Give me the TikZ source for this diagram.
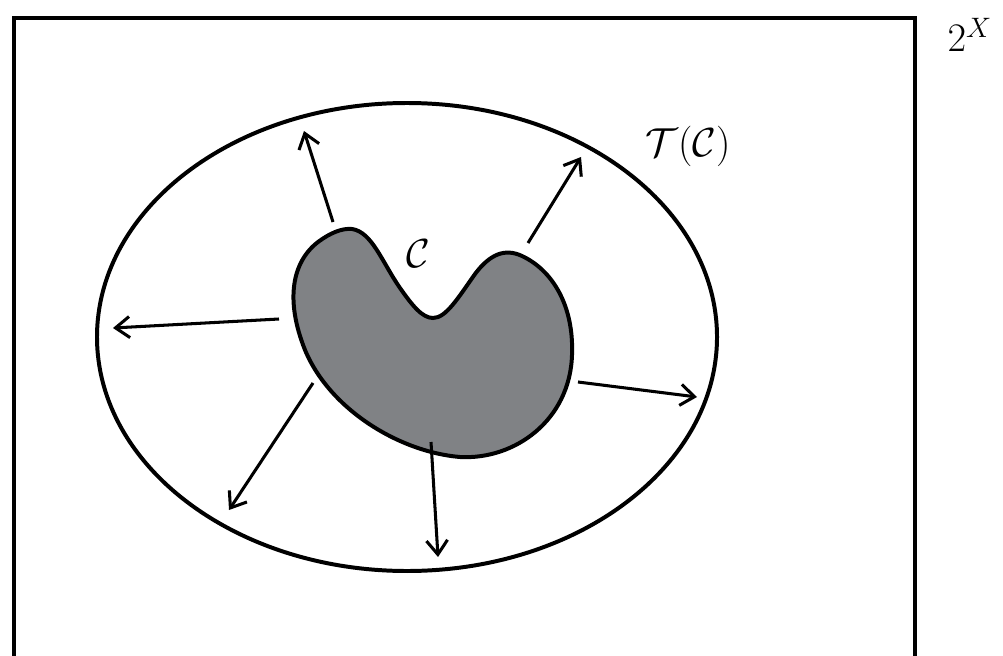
\documentclass[tikz,border=0pt]{standalone}
\usepackage{amsmath}
\usetikzlibrary{arrows.meta}
\definecolor{blobgray}{RGB}{128,130,133}

\begin{document}
\begin{tikzpicture}[x=0.015cm,y=-0.015cm,font=\LARGE,
  outarrow/.style={line width=1.3pt,-{Straight Barb[length=6pt,width=9pt]}}]
\useasboundingbox (0,0) rectangle (1003,655);
% space 2^X
\draw[line width=1.4pt] (14,720) -- (14,18) -- (915,18) -- (915,720);
\node (space) at (970,35) {$2^X$};
% tube
\draw[line width=1.7pt] (407,337) ellipse [x radius=310,y radius=234];
\node (tube) at (688,146) {$\mathcal{T}(\mathcal{C})$};
% the set C
\draw[line width=1.7pt,fill=blobgray] (352,229)
  .. controls (372,232) and (382,262) .. (400,288)
  .. controls (412,305) and (422,318) .. (433,318)
  .. controls (446,318) and (458,298) .. (475,274)
  .. controls (490,254) and (505,248) .. (522,256)
  .. controls (552,270) and (574,305) .. (572,355)
  .. controls (570,420) and (515,460) .. (460,457)
  .. controls (400,452) and (330,410) .. (305,350)
  .. controls (285,300) and (292,262) .. (318,242)
  .. controls (330,233) and (342,228) .. (352,229) -- cycle;
\node (set) at (418,254) {$\mathcal{C}$};
% arrows
\coordinate (a1) at (333,222); \coordinate (b1) at (304,131);
\coordinate (a2) at (528,243); \coordinate (b2) at (581,157);
\coordinate (a3) at (279,319); \coordinate (b3) at (113,328);
\coordinate (a4) at (578,382); \coordinate (b4) at (697,397);
\coordinate (a5) at (313,383); \coordinate (b5) at (229,510);
\coordinate (a6) at (431,442); \coordinate (b6) at (438,557);
\foreach \i in {1,...,6}
  \draw[outarrow] (a\i) -- (b\i);
\end{tikzpicture}
\end{document}
